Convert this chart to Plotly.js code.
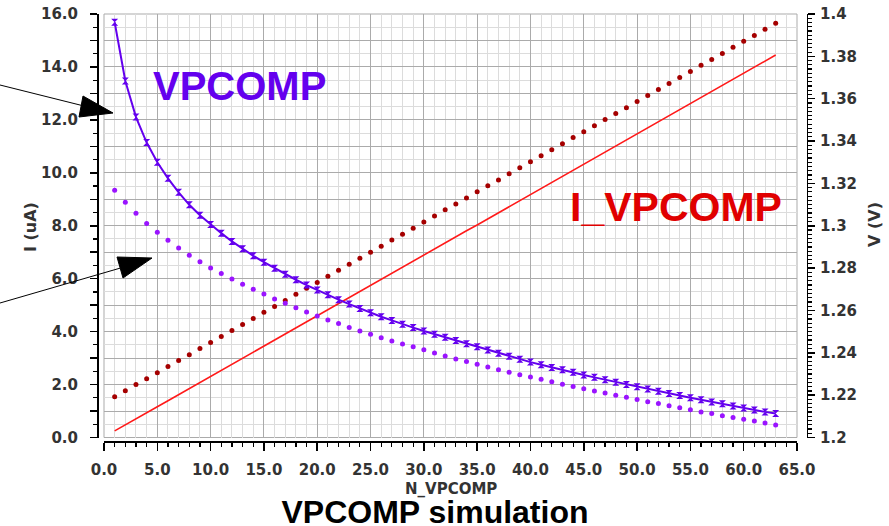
<!DOCTYPE html>
<html>
<head>
<meta charset="utf-8">
<script src="https://cdn.plot.ly/plotly-3.0.1.min.js"></script>
<style>html,body{margin:0;padding:0;background:#fff;}#chart{width:889px;height:526px;}</style>
</head>
<body>
<div id="chart"></div>
<script>
// N_VPCOMP code values (x axis)
const nVpcomp = [1,2,3,4,5,6,7,8,9,10,11,12,13,14,15,16,17,18,19,20,21,22,23,24,25,26,27,28,29,30,31,32,33,34,35,36,37,38,39,40,41,42,43,44,45,46,47,48,49,50,51,52,53,54,55,56,57,58,59,60,61,62,63];

// VPCOMP (V), solid purple curve with markers
const vpcompA = [1.3961,1.3684,1.3513,1.3393,1.3300,1.3224,1.3158,1.3099,1.3050,1.3006,1.2965,1.2926,1.2891,1.2858,1.2828,1.2799,1.2771,1.2745,1.2720,1.2696,1.2674,1.2651,1.2630,1.2609,1.2589,1.2570,1.2553,1.2535,1.2519,1.2503,1.2488,1.2473,1.2458,1.2443,1.2428,1.2413,1.2398,1.2384,1.2370,1.2356,1.2344,1.2331,1.2320,1.2308,1.2295,1.2284,1.2273,1.2261,1.2250,1.2240,1.2229,1.2219,1.2208,1.2198,1.2188,1.2178,1.2168,1.2159,1.2149,1.2139,1.2130,1.2121,1.2113];

// VPCOMP (V), dotted purple curve
const vpcompB = [1.3168,1.3111,1.3059,1.3011,1.2969,1.2931,1.2895,1.2861,1.2830,1.2801,1.2774,1.2748,1.2724,1.2700,1.2678,1.2654,1.2634,1.2613,1.2593,1.2574,1.2555,1.2538,1.2520,1.2503,1.2488,1.2471,1.2456,1.2441,1.2428,1.2414,1.2399,1.2385,1.2371,1.2359,1.2346,1.2333,1.2320,1.2308,1.2296,1.2286,1.2275,1.2263,1.2251,1.2241,1.2230,1.2220,1.2210,1.2200,1.2190,1.2180,1.2169,1.2160,1.2150,1.2141,1.2131,1.2121,1.2113,1.2103,1.2094,1.2086,1.2078,1.2069,1.2059];

// I_VPCOMP (uA), solid red line
const iVpcompA = [0.25,0.47,0.70,0.93,1.16,1.39,1.62,1.85,2.08,2.31,2.54,2.77,2.99,3.22,3.45,3.68,3.91,4.14,4.37,4.60,4.83,5.06,5.29,5.51,5.74,5.97,6.20,6.43,6.66,6.89,7.12,7.35,7.58,7.81,8.03,8.26,8.49,8.72,8.95,9.18,9.41,9.64,9.87,10.10,10.33,10.55,10.78,11.01,11.24,11.47,11.70,11.93,12.16,12.39,12.62,12.85,13.07,13.30,13.53,13.76,13.99,14.22,14.45];

// I_VPCOMP (uA), dotted dark red curve
const iVpcompB = [1.54,1.77,2.00,2.22,2.45,2.68,2.91,3.13,3.36,3.59,3.82,4.04,4.27,4.50,4.73,4.95,5.18,5.41,5.64,5.86,6.09,6.32,6.55,6.77,7.00,7.23,7.46,7.68,7.91,8.14,8.37,8.60,8.82,9.05,9.28,9.51,9.73,9.96,10.19,10.42,10.64,10.87,11.10,11.33,11.55,11.78,12.01,12.24,12.46,12.69,12.92,13.15,13.37,13.60,13.83,14.06,14.28,14.51,14.74,14.97,15.19,15.42,15.65];

// Left axis tick values and labels
const iTickVals = [0,1,2,3,4,5,6,7,8,9,10,11,12,13,14,15,16];
const iTickText = ['0.0','','2.0','','4.0','','6.0','','8.0','','10.0','','12.0','','14.0','','16.0'];

const W = 889, H = 526;
const px = v => v / W;
const py = v => 1 - v / H;

const tickFont = {family: 'DejaVu Sans', size: 15, color: '#333333', weight: 700};
const titleFont = {family: 'DejaVu Sans', size: 16, color: '#333333', weight: 700};

const traces = [
  {x: nVpcomp, y: iVpcompA, yaxis: 'y', type: 'scatter', mode: 'lines',
   line: {color: '#ff1a1a', width: 1.6}, name: 'I_VPCOMP'},
  {x: nVpcomp, y: iVpcompB, yaxis: 'y', type: 'scatter', mode: 'markers',
   marker: {color: '#a50000', size: 5}, name: 'I_VPCOMP dots'},
  {x: nVpcomp, y: vpcompB, yaxis: 'y2', type: 'scatter', mode: 'markers',
   marker: {color: '#9a14ff', size: 5}, name: 'VPCOMP dots'},
  {x: nVpcomp, y: vpcompA, yaxis: 'y2', type: 'scatter', mode: 'lines+markers',
   line: {color: '#6400ee', width: 2},
   marker: {symbol: 'hourglass', size: 7, color: '#6400ee'}, name: 'VPCOMP'}
];

const layout = {
  width: W, height: H,
  margin: {l: 0, r: 0, t: 0, b: 0},
  paper_bgcolor: '#ffffff', plot_bgcolor: '#ffffff',
  showlegend: false,
  title: {text: 'VPCOMP simulation', x: px(435), xanchor: 'center', xref: 'container',
          y: 1 - 512 / H, yanchor: 'middle', yref: 'container',
          font: {family: 'Liberation Sans', size: 32, color: '#000000', weight: 700}},
  xaxis: {
    domain: [px(104), px(797)], range: [0, 65], anchor: 'free', position: py(441),
    tickmode: 'linear', tick0: 0, dtick: 5, tickformat: '.1f',
    showgrid: true, gridcolor: '#ababab', gridwidth: 1, zeroline: false,
    showline: true, linecolor: '#000000', linewidth: 1.5,
    ticks: 'outside', ticklen: 8, tickwidth: 1.5, tickcolor: '#000000',
    ticklabelstandoff: 6, tickfont: tickFont,
    minor: {dtick: 1, tick0: 0, showgrid: true, gridcolor: '#dcdcdc', gridwidth: 1,
            ticks: 'outside', ticklen: 4, tickwidth: 1.2, tickcolor: '#000000'}
  },
  yaxis: {
    domain: [py(437.5), py(14)], range: [0, 16], anchor: 'free', position: px(97),
    tickmode: 'array', tickvals: iTickVals, ticktext: iTickText,
    showgrid: true, gridcolor: '#ababab', gridwidth: 1, zeroline: false,
    showline: true, linecolor: '#000000', linewidth: 1.5,
    ticks: 'outside', ticklen: 7, tickwidth: 1.5, tickcolor: '#000000',
    ticklabelstandoff: 9, tickfont: tickFont,
    minor: {dtick: 0.5, tick0: 0, showgrid: true, gridcolor: '#dcdcdc', gridwidth: 1,
            ticks: 'outside', ticklen: 4, tickwidth: 1.2, tickcolor: '#000000'}
  },
  yaxis2: {
    overlaying: 'y', side: 'right', range: [1.2, 1.4], anchor: 'free', position: px(806.5),
    tickmode: 'linear', tick0: 1.2, dtick: 0.02,
    showgrid: false, zeroline: false,
    showline: true, linecolor: '#000000', linewidth: 1.5,
    ticks: 'outside', ticklen: 7, tickwidth: 1.5, tickcolor: '#000000',
    ticklabelstandoff: 2, tickfont: tickFont,
    minor: {dtick: 0.002, tick0: 1.2, showgrid: false,
            ticks: 'outside', ticklen: 4, tickwidth: 1.2, tickcolor: '#000000'}
  },
  shapes: [
    {type: 'rect', xref: 'x domain', yref: 'y domain', x0: 0, x1: 1, y0: 0, y1: 1,
     line: {color: '#ababab', width: 1}, layer: 'below'},
    // arrow 1 shaft + head
    {type: 'line', xref: 'paper', yref: 'paper', x0: px(0), y0: py(85), x1: px(88), y1: py(107),
     line: {color: '#000000', width: 1}},
    {type: 'path', xref: 'paper', yref: 'paper',
     path: 'M ' + px(113) + ' ' + py(113) + ' L ' + px(83) + ' ' + py(96) + ' L ' + px(79) + ' ' + py(117) + ' Z',
     fillcolor: '#000000', line: {color: '#000000', width: 1}},
    // arrow 2 shaft + head
    {type: 'line', xref: 'paper', yref: 'paper', x0: px(0), y0: py(303), x1: px(124), y1: py(267),
     line: {color: '#000000', width: 1}},
    {type: 'path', xref: 'paper', yref: 'paper',
     path: 'M ' + px(152) + ' ' + py(258) + ' L ' + px(117) + ' ' + py(257) + ' L ' + px(123) + ' ' + py(278) + ' Z',
     fillcolor: '#000000', line: {color: '#000000', width: 1}}
  ],
  annotations: [
    {text: 'VPCOMP', xref: 'paper', yref: 'paper', x: px(239), y: py(86), xanchor: 'center', yanchor: 'middle',
     showarrow: false, font: {family: 'Liberation Sans', size: 40, color: '#6400ee', weight: 700}},
    {text: 'I_VPCOMP', xref: 'paper', yref: 'paper', x: px(676), y: py(207), xanchor: 'center', yanchor: 'middle',
     showarrow: false, font: {family: 'Liberation Sans', size: 41, color: '#e00000', weight: 700}},
    {text: 'N_VPCOMP', xref: 'paper', yref: 'paper', x: px(451), y: py(489), xanchor: 'center', yanchor: 'middle',
     showarrow: false, font: {family: 'DejaVu Sans', size: 15, color: '#333333', weight: 700}},
    {text: 'I (uA)', xref: 'paper', yref: 'paper', x: px(30), y: py(227), xanchor: 'center', yanchor: 'middle',
     textangle: -90, showarrow: false, font: titleFont},
    {text: 'V (V)', xref: 'paper', yref: 'paper', x: px(875), y: py(225), xanchor: 'center', yanchor: 'middle',
     textangle: -90, showarrow: false, font: titleFont}
  ]
};

Plotly.newPlot('chart', traces, layout, {displayModeBar: false, staticPlot: true});
</script>
</body>
</html>
